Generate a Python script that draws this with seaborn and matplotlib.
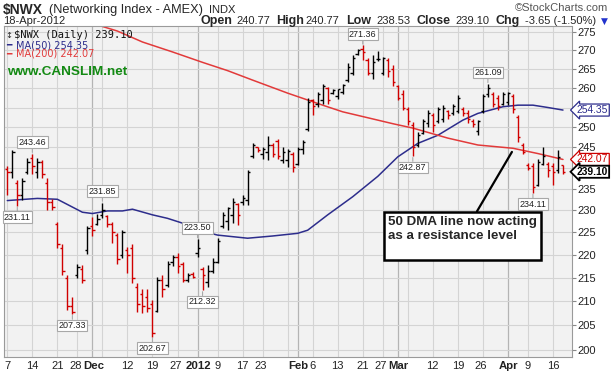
import matplotlib
matplotlib.use("Agg")
import matplotlib.pyplot as plt
import matplotlib.transforms as mtransforms
from matplotlib.ticker import FixedLocator, FuncFormatter, NullLocator
import numpy as np
import pandas as pd
import seaborn as sns

# trading calendar of the chart (Nov 7 2011 .. Apr 18 2012)
holidays = ["2011-11-24", "2011-12-26", "2012-01-02", "2012-01-16", "2012-02-20", "2012-04-06"]
dates = pd.bdate_range("2011-11-07", "2012-04-18")
dates = dates[~dates.isin(pd.to_datetime(holidays))]

opens = [
    239.8, 239.0, 236.5, 233.5, 239.0, 242.5, 239.0, 241.5, 236.5, 232.0,
    227.0, 221.5, 215.0, 209.0, 215.5, 217.0, 221.0, 226.5, 227.0, 229.0,
    228.8, 226.8, 224.5, 220.0, 221.0, 221.5, 213.0, 211.5, 211.0, 209.5,
    208.0, 214.5, 213.5, 218.5, 219.5, 218.0, 214.5, 215.8, 220.5, 216.8,
    214.0, 216.5, 218.5, 226.5, 227.5, 229.0, 231.5, 232.0, 232.5, 243.0,
    245.0, 243.5, 244.0, 245.5, 246.5, 242.0, 242.0, 243.5, 241.0, 244.5,
    249.5, 257.0, 256.0, 257.0, 260.0, 258.8, 258.0, 259.0, 262.0, 264.0,
    269.0, 270.5, 267.5, 264.0, 267.6, 264.0, 267.5, 265.0, 260.5, 258.5,
    254.5, 250.5, 245.5, 248.5, 251.0, 253.0, 251.5, 252.0, 254.0, 253.5,
    254.0, 254.5, 253.5, 251.5, 249.0, 254.0, 258.5, 258.5, 257.5, 256.0,
    256.5, 258.0, 252.5, 245.5, 240.8, 240.5, 236.0, 241.0, 241.0, 240.5,
    239.5, 240.77]
highs = [
    240.6, 244.4, 237.1, 237.7, 242.5, 243.46, 242.4, 242.0, 237.5, 232.6,
    227.4, 222.4, 215.6, 211.0, 218.1, 217.8, 226.5, 228.5, 229.2, 231.85,
    229.0, 227.4, 224.9, 225.5, 221.8, 222.4, 213.9, 212.5, 212.7, 210.3,
    215.2, 215.6, 218.7, 220.0, 220.5, 218.5, 216.1, 216.3, 223.5, 217.4,
    217.8, 219.3, 223.7, 229.7, 230.9, 232.8, 231.7, 233.6, 239.5, 246.0,
    245.2, 245.2, 247.8, 246.0, 247.2, 245.2, 244.5, 243.9, 245.2, 246.8,
    257.5, 257.3, 259.0, 261.2, 260.3, 259.9, 259.8, 261.2, 266.5, 268.7,
    270.5, 271.36, 267.9, 268.7, 269.8, 268.2, 267.9, 266.0, 260.8, 259.5,
    255.2, 251.3, 248.8, 252.2, 254.3, 253.5, 255.2, 255.6, 254.3, 256.0,
    258.2, 255.2, 254.3, 252.2, 251.8, 258.6, 261.09, 259.0, 258.2, 259.0,
    259.0, 258.6, 253.1, 246.0, 241.1, 241.1, 242.3, 245.2, 241.5, 241.1,
    244.3, 240.77]
lows = [
    233.6, 237.7, 231.11, 232.4, 238.5, 238.5, 237.7, 237.7, 230.1, 230.1,
    221.5, 215.6, 208.2, 207.33, 214.9, 213.8, 220.2, 224.3, 226.7, 228.2,
    226.3, 222.6, 218.0, 219.3, 216.1, 213.8, 207.8, 207.6, 207.8, 202.67,
    207.8, 211.0, 213.0, 217.6, 216.1, 214.0, 214.0, 214.9, 219.6, 212.32,
    213.0, 216.0, 218.2, 225.9, 225.5, 227.1, 226.7, 231.2, 231.2, 242.5,
    243.9, 242.3, 241.9, 242.7, 242.3, 241.1, 240.3, 239.1, 240.8, 243.5,
    249.0, 253.1, 255.2, 256.0, 256.0, 258.6, 257.3, 258.6, 261.7, 263.4,
    268.7, 267.4, 263.4, 262.5, 267.2, 263.4, 263.0, 260.5, 256.9, 254.3,
    250.5, 242.87, 245.2, 248.4, 250.1, 248.8, 251.0, 251.4, 252.2, 253.1,
    253.5, 252.8, 251.0, 250.1, 248.0, 253.5, 257.8, 255.2, 254.3, 255.6,
    255.6, 253.5, 246.4, 243.5, 239.5, 234.11, 235.6, 240.7, 237.8, 235.9,
    238.7, 238.53]
closes = [
    239.0, 244.0, 233.5, 237.0, 241.5, 240.5, 241.5, 238.5, 232.0, 230.8,
    222.5, 216.5, 209.0, 207.8, 217.3, 214.5, 226.0, 225.5, 228.0, 230.0,
    227.0, 225.0, 219.0, 225.0, 220.0, 215.0, 209.5, 209.0, 208.5, 203.5,
    214.5, 212.5, 218.0, 219.5, 217.5, 214.5, 215.5, 215.2, 221.5, 215.5,
    216.5, 218.5, 223.0, 229.0, 230.5, 232.0, 229.0, 233.0, 239.0, 245.5,
    244.3, 244.6, 245.5, 243.5, 243.0, 244.0, 244.2, 240.2, 244.5, 246.3,
    256.5, 255.5, 258.5, 260.5, 257.0, 259.5, 259.7, 260.8, 265.5, 268.0,
    270.2, 269.5, 264.0, 267.0, 267.8, 268.0, 264.5, 261.5, 257.5, 255.0,
    251.5, 245.0, 248.0, 251.5, 253.5, 250.5, 254.5, 255.0, 253.0, 255.5,
    257.5, 253.5, 252.0, 250.8, 251.5, 258.0, 260.0, 256.0, 255.5, 258.5,
    258.7, 254.5, 247.5, 244.0, 240.0, 235.5, 241.5, 243.0, 239.5, 239.0,
    242.75, 239.10]

# moving averages (trading-day index, value)
ma50_days = [0, 6, 10, 15, 17, 20, 23, 25, 29, 32, 35, 38, 42, 48, 53, 58, 60,
             64, 69, 74, 78, 82, 86, 91, 94, 99, 102, 105, 108, 111]
ma50_values = [232.3, 232.8, 232.6, 229.6, 229.3, 229.9, 229.9, 230.3, 229.0, 228.2,
               227.1, 225.6, 224.4, 223.7, 224.2, 224.8, 225.5, 229.0, 233.2, 238.0,
               242.7, 246.0, 248.0, 251.8, 253.5, 255.2, 255.6, 255.6, 255.0, 254.35]
ma200_days = [8, 18, 22, 27, 33, 39, 44, 49, 56, 63, 67, 72, 77, 81, 88, 94, 101, 106, 111]
ma200_values = [279.0, 277.0, 275.3, 272.3, 269.6, 266.8, 264.6, 262.1, 258.7, 255.6,
                253.9, 252.4, 250.9, 249.8, 247.3, 245.6, 244.8, 243.5, 242.07]

tick_dates = ["2011-11-07", "2011-11-14", "2011-11-21", "2011-11-28", "2011-12-01",
              "2011-12-12", "2011-12-19", "2011-12-27", "2012-01-03", "2012-01-09",
              "2012-01-17", "2012-01-23", "2012-02-01", "2012-02-06", "2012-02-13",
              "2012-02-21", "2012-02-27", "2012-03-01", "2012-03-12", "2012-03-19",
              "2012-03-26", "2012-04-02", "2012-04-09", "2012-04-16"]
tick_labels = ["7", "14", "21", "28", "Dec", "12", "19", "27", "2012", "9", "17", "23",
               "Feb", "6", "13", "21", "27", "Mar", "12", "19", "26", "Apr", "9", "16"]
bold_labels = {"Dec", "2012", "Feb", "Mar", "Apr"}

# labelled highs / lows
marked_days = [2, 5, 13, 19, 29, 38, 39, 71, 81, 96, 105]
marked_kind = ["low", "high", "low", "high", "low", "high", "low", "high", "low", "high", "low"]

yticks = list(range(200, 280, 5))
covered_yticks = {255, 240}   # hidden behind the price tags on the right axis

W, H = 611, 378
sns.set_style("white")
plt.rcParams["font.family"] = ["Liberation Sans", "DejaVu Sans"]

fig = plt.figure(figsize=(W / 100, H / 100), dpi=100)
ax = fig.add_axes([4 / W, 1 - 357 / H, 568 / W, 331 / H])
ax.set_facecolor("#f2f2f2")
ax.set_yscale("log")
ax.set_ylim(198.6, 276.7)
ax.set_xlim(-0.66, 112.8)

def px(x, y):
    return x / W, 1 - y / H

x = np.arange(len(dates))
prev = np.r_[opens[0], closes[:-1]]
bar_col = np.where(np.array(closes) < prev, "#d00000", "#000000")

# grid
ax.yaxis.set_major_locator(FixedLocator(yticks))
ax.yaxis.set_minor_locator(NullLocator())
ax.yaxis.set_major_formatter(
    FuncFormatter(lambda v, p: "" if round(v) in covered_yticks else f"{v:.0f}"))
ax.grid(axis="y", color="#d4d4d4", lw=0.8, zorder=0)
iso_week = [d.isocalendar()[1] for d in dates]
for i in range(len(dates)):
    if i > 0 and dates[i].month != dates[i - 1].month:
        ax.axvline(i, color="#b4b4b4", lw=0.9, zorder=0)
    elif i == 0 or iso_week[i] != iso_week[i - 1]:
        ax.axvline(i, color="#d4d4d4", lw=0.8, zorder=0)

# OHLC bars
ax.vlines(x, lows, highs, colors=bar_col, lw=1.0, zorder=3)
ax.hlines(opens, x - 0.45, x, colors=bar_col, lw=1.0, zorder=3)
ax.hlines(closes, x, x + 0.45, colors=bar_col, lw=1.0, zorder=3)

# moving averages
sns.lineplot(x=ma50_days, y=ma50_values, ax=ax, color="#2d2d8c", lw=1.1, zorder=2)
sns.lineplot(x=ma200_days, y=ma200_values, ax=ax, color="#e23a3a", lw=1.1, zorder=2)

# axes / ticks
ax.yaxis.tick_right()
ax.tick_params(axis="y", which="major", labelsize=8, length=3, width=0.8,
               color="#888888", pad=1, labelcolor="#222222")
tick_pos = dates.get_indexer(pd.to_datetime(tick_dates))
ax.set_xticks(tick_pos)
ax.set_xticklabels(tick_labels)
ax.tick_params(axis="x", labelsize=8, length=0, pad=3, labelcolor="#222222")
nudge_left = mtransforms.ScaledTranslation(-2 / 100, 0, fig.dpi_scale_trans)
nudge_right = mtransforms.ScaledTranslation(1 / 100, 0, fig.dpi_scale_trans)
xt = ax.get_xticklabels()
for k, t in enumerate(xt):
    if t.get_text() in bold_labels:
        t.set_fontweight("bold")
        t.set_fontsize(8.2)
        if k > 0:
            t.set_transform(t.get_transform() + nudge_right)
            xt[k - 1].set_transform(xt[k - 1].get_transform() + nudge_left)
ax.set_xlabel("")
ax.set_ylabel("")
for s in ax.spines.values():
    s.set_color("#9a9a9a")
    s.set_linewidth(0.8)
ax.spines["right"].set_linestyle((0, (1, 1)))

# high / low labels
for i, kind in zip(marked_days, marked_kind):
    v = highs[i] if kind == "high" else lows[i]
    off = 5 if kind == "high" else -5
    ax.annotate(f"{v:.2f}", (i, v), xytext=(0, off), textcoords="offset points",
                ha="center", va="bottom" if kind == "high" else "top",
                fontsize=6.5, color="#222222", zorder=6,
                bbox=dict(boxstyle="square,pad=0.15", fc="white", ec="#a8a8a8", lw=0.8),
                arrowprops=dict(arrowstyle="-", color="#a8a8a8", lw=0.8,
                                shrinkA=0, shrinkB=1))

# price tags on the right axis
for val, col, wt, lw in [(254.35, "#2d2d8c", "normal", 0.9),
                          (242.07, "#cc0000", "normal", 0.9),
                          (239.10, "#000000", "bold", 1.3)]:
    ax.annotate(f"{val:.2f}", xy=(1.0, val), xycoords=("axes fraction", "data"),
                xytext=(3.5, 0), textcoords="offset points", ha="left", va="center",
                fontsize=7.4, color=col, fontweight=wt, annotation_clip=False, zorder=8,
                bbox=dict(boxstyle="larrow,pad=0.1", fc="white", ec=col, lw=lw))

# callout
ax.annotate("50 DMA line now acting\nas a resistance level\n ",
            xy=(100.8, 243.9), xytext=(0.676, 0.425), textcoords="axes fraction",
            ha="left", va="top", fontsize=9.6, fontweight="bold", linespacing=1.2,
            zorder=7,
            bbox=dict(boxstyle="square,pad=0.3", fc="white", ec="black", lw=1.8),
            arrowprops=dict(arrowstyle="-", color="black", lw=1.6, shrinkA=0, shrinkB=0))

# header
fig.text(*px(3, 10), "$NWX", fontsize=10, fontweight="bold", va="center")
fig.text(*px(49, 10), "(Networking Index - AMEX)", fontsize=9.2, va="center")
fig.text(*px(209, 10), "INDX", fontsize=8, va="center")
fig.text(*px(608, 8), "\u00a9StockCharts.com", fontsize=8, va="center", ha="right",
         color="#555555")
fig.text(*px(3, 21), "18-Apr-2012", fontsize=8, va="center")
header = [("Open", True, 200), ("240.77", False, 236), ("High", True, 276),
          ("240.77", False, 305), ("Low", True, 346), ("238.53", False, 376),
          ("Close", True, 417), ("239.10", False, 455), ("Chg", True, 496),
          ("-3.65 (-1.50%)", False, 525)]
for txt, bold, xp in header:
    fig.text(*px(xp, 21), txt, fontsize=9 if bold else 8, va="center",
             fontweight="bold" if bold else "normal")
fig.text(*px(601, 21), "\u25bc", fontsize=6.5, va="center", color="#2233cc",
         family="DejaVu Sans")

# legend block inside the chart
fig.text(*px(14, 35), "$NWX (Daily) 239.10", fontsize=7.5, va="center",
         family="DejaVu Sans Mono", color="#111111")
fig.text(*px(5, 35), "\u2195", fontsize=6, va="center", family="DejaVu Sans")
fig.text(*px(6, 45), "\u2501", fontsize=6.5, va="center", color="#2d2d8c",
         family="DejaVu Sans")
fig.text(*px(16, 45), "MA(50) 254.35", fontsize=7, va="center", color="#2d2d8c",
         family="DejaVu Sans")
fig.text(*px(6, 54), "\u2501", fontsize=6.5, va="center", color="#e23a3a",
         family="DejaVu Sans")
fig.text(*px(16, 54), "MA(200) 242.07", fontsize=7, va="center", color="#e23a3a",
         family="DejaVu Sans")
fig.text(*px(7, 72), "www.CANSLIM.net", fontsize=9.7, fontweight="bold", va="center",
         color="#138a13")

fig.savefig("out.png", dpi=100, facecolor="white")
